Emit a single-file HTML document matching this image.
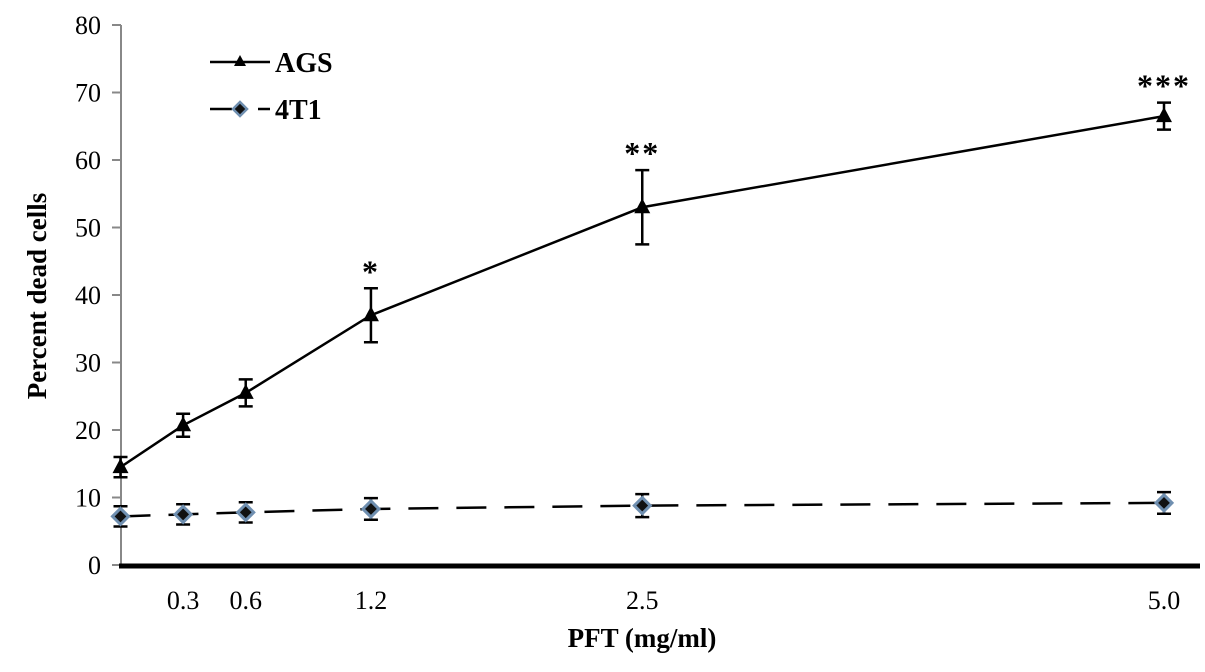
<!DOCTYPE html>
<html><head><meta charset="utf-8"><style>
body{margin:0;background:#fff;}
svg{display:block;font-family:"Liberation Serif",serif;}
</style></head><body>
<svg id="c" width="1205" height="672"></svg>
<script>
const xValues=[0,0.3,0.6,1.2,2.5,5.0];
const xTickLabels=["0.3","0.6","1.2","2.5","5.0"];
const xTickValues=[0.3,0.6,1.2,2.5,5.0];
const agsValues=[14.5,20.7,25.5,37,53,66.5];
const agsErrors=[1.5,1.7,2,4,5.5,2];
const t41Values=[7.2,7.5,7.8,8.3,8.8,9.2];
const t41Errors=[1.5,1.5,1.5,1.6,1.7,1.6];
const sigLabels=["","","","*","**","***"];
const yTicks=[0,10,20,30,40,50,60,70,80];

const NS="http://www.w3.org/2000/svg";
const svg=document.getElementById('c');
const X=v=>120.5+v*208.7;
const Y=v=>565-v*6.75;
function mk(tag,attrs,parent){const e=document.createElementNS(NS,tag);for(const k in attrs)e.setAttribute(k,attrs[k]);(parent||svg).appendChild(e);return e;}

let ya=mk('line',{x1:121,y1:Y(80),x2:121,y2:565,stroke:'#888','stroke-width':2});


yTicks.forEach(t=>{
  let l=mk('line',{x1:112,y1:Y(t),x2:121,y2:Y(t),stroke:'#888','stroke-width':2});
  
  
  let tx=mk('text',{x:101,y:Y(t)+9,'text-anchor':'end','font-size':26});
  tx.textContent=t;
  
  
});
let xa=mk('line',{x1:119,y1:566,x2:1200,y2:566,stroke:'#000','stroke-width':5});


xTickValues.forEach((v,i)=>{
  let tx=mk('text',{x:X(v),y:609,'text-anchor':'middle','font-size':26});
  tx.textContent=xTickLabels[i];
  
  
});
let xt=mk('text',{x:642,y:647,'text-anchor':'middle','font-size':27,'font-weight':'bold'});
xt.textContent='PFT (mg/ml)';


let yt=mk('text',{x:0,y:0,'text-anchor':'middle','font-size':27,'font-weight':'bold',transform:'translate(46,296) rotate(-90)'});
yt.textContent='Percent dead cells';



function series(vals,errs,dash,marker,name){
  const g=mk('g',{});
  
  
  const pts=xValues.map((x,i)=>X(x)+','+Y(vals[i])).join(' ');
  mk('polyline',{points:pts,fill:'none',stroke:'#000','stroke-width':2.5,'stroke-dasharray':dash},g);
  xValues.forEach((x,i)=>{
    const cx=X(x),cy=Y(vals[i]),e=errs[i];
    const eb=mk('path',{d:`M${cx},${Y(vals[i]+e)}V${Y(vals[i]-e)}M${cx-7},${Y(vals[i]+e)}h14M${cx-7},${Y(vals[i]-e)}h14`,stroke:'#000','stroke-width':2.5,fill:'none'},g);
    
    
    let m;
    if(marker==='tri') m=mk('path',{d:`M${cx},${cy-9}L${cx+8},${cy+6}L${cx-8},${cy+6}Z`,fill:'#000'},g);
    else m=mk('path',{d:`M${cx},${cy-8}L${cx+8},${cy}L${cx},${cy+8}L${cx-8},${cy}Z`,fill:'#111',stroke:'#6f8fb0','stroke-width':3},g);
    
    
  });
}
series(t41Values,t41Errors,'30,18','dia','4t1');
series(agsValues,agsErrors,'','tri','ags');
xValues.forEach((x,i)=>{
  if(!sigLabels[i])return;
  let s=mk('text',{x:X(x),y:Y(agsValues[i]+agsErrors[i])-6,'text-anchor':'middle','font-size':32,'font-weight':'bold','letter-spacing':2});
  s.textContent=sigLabels[i];
  
  
});
const lg=mk('g',{});


mk('line',{x1:210,y1:62,x2:270,y2:62,stroke:'#000','stroke-width':2.5},lg);
mk('path',{d:'M240,55L246,66L234,66Z',fill:'#000'},lg);
let l1=mk('text',{x:275,y:72,'font-size':28,'font-weight':'bold'},lg);l1.textContent='AGS';


mk('path',{d:'M210,109h22M258,109h12',stroke:'#000','stroke-width':2.5},lg);
mk('path',{d:'M240,102L247,109L240,116L233,109Z',fill:'#111',stroke:'#6f8fb0','stroke-width':2.5},lg);
let l2=mk('text',{x:275,y:119,'font-size':28,'font-weight':'bold'},lg);l2.textContent='4T1';


</script>
</body></html>
